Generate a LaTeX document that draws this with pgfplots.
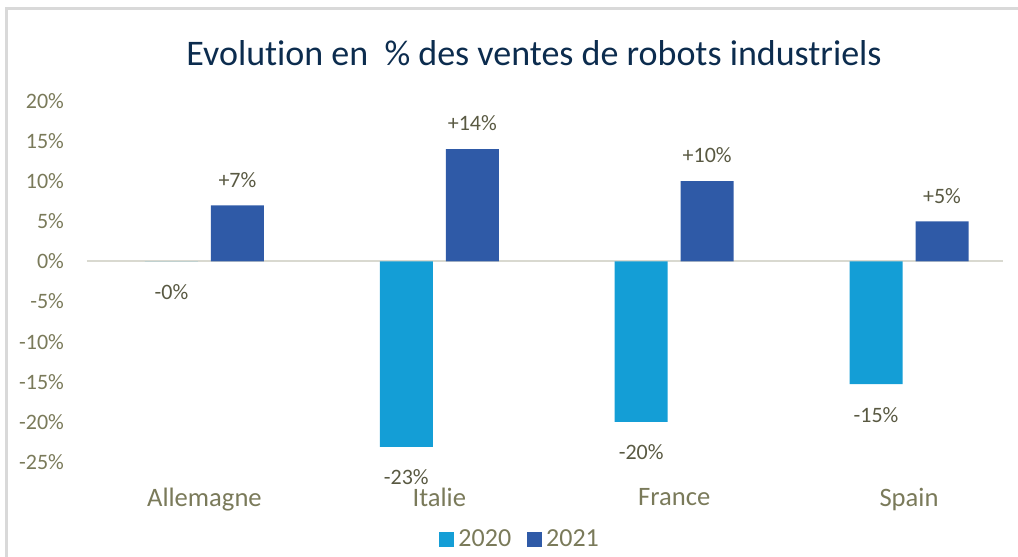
\documentclass[border=0pt]{standalone}
\usepackage{fontspec}
\setmainfont[Ligatures=NoCommon]{Carlito}
\usepackage{pgfplots}
\pgfplotsset{compat=1.18}
\definecolor{bar2020}{RGB}{20,158,214}
\definecolor{bar2021}{RGB}{47,90,167}
\definecolor{ticktext}{RGB}{122,122,90}
\definecolor{labtext}{RGB}{89,89,66}
\definecolor{titletext}{RGB}{12,44,78}
\definecolor{zeroline}{RGB}{217,217,208}
\definecolor{framegray}{RGB}{217,217,217}

\begin{document}
\begin{tikzpicture}
% page: 509pt x 278.5pt, axis box bottom-left at origin
\useasboundingbox (-43.5pt,-47.5pt) rectangle (465.5pt,231pt);
\draw[framegray, line width=1.5pt] (-40pt,-47.5pt) -- (-40pt,226.5pt) -- (465.5pt,226.5pt);
\node[text=titletext, font=\fontsize{18}{21}\selectfont] at (223.5pt,204.5pt) {Evolution en \ \% des ventes de robots industriels};
\begin{axis}[
  width=458pt, height=180.5pt, scale only axis,
  ybar=6.5pt, bar width=26.5pt,
  xmin=-0.5, xmax=3.4, ymin=-25, ymax=20,
  xtick={0,1,2,3}, xticklabels={Allemagne,Italie,France,Spain},
  ytick={-25,-20,...,20},
  yticklabels={-25\%,-20\%,-15\%,-10\%,-5\%,0\%,5\%,10\%,15\%,20\%},
  axis line style={draw=none},
  major tick length=0pt,
  xticklabel style={font=\fontsize{13.3}{15}\selectfont, text=ticktext, yshift=-9.5pt},
  yticklabel style={font=\fontsize{11}{13}\selectfont, text=ticktext, xshift=-8pt},
  extra y ticks={0}, extra y tick labels={},
  extra y tick style={grid=major, major grid style={zeroline, line width=1pt}},
  point meta=explicit symbolic,
  nodes near coords={\pgfplotspointmeta},
  nodes near coords style={font=\fontsize{11}{13}\selectfont, text=labtext},
  legend columns=2,
  legend style={at={(0.474,-0.215)}, anchor=center, draw=none, fill=none,
    font=\fontsize{13}{15}\selectfont, text=ticktext,
    /tikz/every even column/.append style={column sep=6pt}},
  legend image code/.code={\path[#1] (0pt,-3.75pt) rectangle (7.5pt,3.75pt);},
  clip=false,
]
\addplot[fill=bar2020, draw=none, every node near coord/.append style={anchor=north, yshift=-8pt}]
  coordinates {(0,-0.005) [-0\%] (1,-23.1) [-23\%] (2,-20) [-20\%] (3,-15.3) [-15\%]};
\addplot[fill=bar2021, draw=none, every node near coord/.append style={anchor=south, yshift=5.5pt}]
  coordinates {(0,7) [+7\%] (1,14) [+14\%] (2,10) [+10\%] (3,5) [+5\%]};
\legend{2020,2021}
\end{axis}
\end{tikzpicture}
\end{document}
